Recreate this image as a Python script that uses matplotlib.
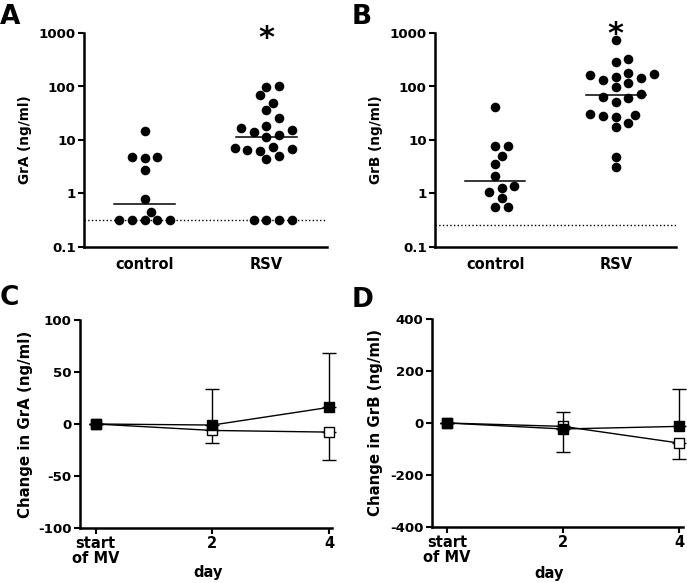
import numpy as np
import matplotlib
matplotlib.use("Agg")
import matplotlib.pyplot as plt
from matplotlib.ticker import FixedLocator, FixedFormatter, NullLocator
from matplotlib.transforms import blended_transform_factory

plt.rcParams['font.family'] = 'DejaVu Sans'
plt.rcParams['font.weight'] = 'bold'
plt.rcParams['axes.unicode_minus'] = False

# panel A / B: scatter data (ng/ml)
groups = ['control', 'RSV']
grA_control = [14.5, 4.8, 4.8, 4.6, 2.7, 0.79, 0.46, 0.32, 0.32, 0.32, 0.32, 0.32]
grA_rsv = [100, 98, 68, 50, 35.7, 25.4, 18.5, 16.8, 14.1, 15.6, 11.4, 12.2,
           6.6, 7.1, 7.3, 6.2, 6.8, 5.1, 4.4, 0.32, 0.32, 0.32, 0.32]
grA_median = [0.63, 11.2]
grA_lod = 0.32

grB_control = [40.8, 7.8, 7.8, 5.1, 3.5, 2.1, 1.27, 1.36, 1.07, 0.81, 0.55, 0.55]
grB_rsv = [750, 327, 282, 161, 146, 179, 171, 134, 152, 116, 98, 62.5, 60, 73, 51,
           27.7, 21, 31, 26.5, 29.7, 17.2, 4.9, 3.1]
grB_median = [1.71, 70]
grB_lod = 0.26

log_ticks = [0.1, 1, 10, 100, 1000]
log_labels = ['0.1', '1', '10', '100', '1000']

# panel C / D: change over time
days = [0, 2, 4]
day_labels = ['start\nof MV', '2', '4']
grA_filled = [0, -1, 16]
grA_filled_err = [0, 34.4, 52]
grA_open = [0, -6.2, -7.8]
grA_open_err = [0, 11.6, 26.6]
grB_filled = [0, -23, -13]
grB_filled_err = [0, 65, 144]
grB_open = [0, -13, -77]
grB_open_err = [0, 100, 61]


def swarm_offsets(ax, xc, values, slot_px=12.7, d_px=10.0):
    """column scatter on half-slot grid, lowest values placed first"""
    vals = np.asarray(values, float)
    ys = ax.transData.transform(np.column_stack([np.full(len(vals), xc), vals]))[:, 1]
    order = np.argsort(ys, kind='stable')
    cands = [0.0]
    for k in range(1, 10):
        cands += [k * slot_px / 2, -k * slot_px / 2]
    placed = []
    offs = np.zeros(len(vals))
    for i in order:
        y = ys[i]
        for c in cands:
            if all((c - px) ** 2 + (y - py) ** 2 >= d_px ** 2 for px, py in placed):
                offs[i] = c
                break
        placed.append((offs[i], y))
    p0 = ax.transData.transform([[0, 1]])[0, 0]
    p1 = ax.transData.transform([[1, 1]])[0, 0]
    return offs / (p1 - p0)


def style_axes(ax):
    for s in ['top', 'right']:
        ax.spines[s].set_visible(False)
    for s in ['left', 'bottom']:
        ax.spines[s].set_linewidth(1.8)


def scatter_panel(ax, data, medians, lod, ylabel, star_y):
    style_axes(ax)
    ax.set_yscale('log')
    ax.set_ylim(0.1, 1000)
    ax.set_xlim(-0.5, 1.5)
    ax.yaxis.set_major_locator(FixedLocator(log_ticks))
    ax.yaxis.set_major_formatter(FixedFormatter(log_labels))
    ax.yaxis.set_minor_locator(NullLocator())
    ax.set_xticks([0, 1])
    ax.set_xticklabels(groups, fontsize=10.5, fontweight='bold')
    ax.tick_params(axis='x', length=0, pad=7)
    ax.tick_params(axis='y', direction='out', length=4, width=1.5, labelsize=9.6, pad=2)
    ax.axhline(lod, ls=':', lw=1, color='black', zorder=1)
    for i, vals in enumerate(data):
        offs = swarm_offsets(ax, i, vals)
        ax.scatter(i + offs, vals, s=48, color='black', zorder=3, linewidths=0)
        ax.plot([i - 0.25, i + 0.25], [medians[i], medians[i]], color='black', lw=1.1, zorder=4)
    ax.set_ylabel(ylabel, fontsize=9.8, fontweight='bold')
    tr = blended_transform_factory(ax.transData, ax.transAxes)
    ax.text(1, star_y, '*', transform=tr, ha='center', va='baseline',
            fontsize=22, fontweight='bold', clip_on=False)


def change_panel(ax, filled, filled_err, opened, opened_err, ylim, yticks, ylabel):
    style_axes(ax)
    z = [0] * len(days)
    ax.errorbar(days, opened, yerr=[opened_err, z], color='black', lw=1,
                elinewidth=1, capsize=5, capthick=1, marker='s', ms=7.5,
                mfc='white', mec='black', mew=1, zorder=3, clip_on=False)
    ax.errorbar(days, filled, yerr=[z, filled_err], color='black', lw=1,
                elinewidth=1, capsize=5, capthick=1, marker='s', ms=7.5,
                mfc='black', mec='black', zorder=4, clip_on=False)
    ax.set_ylim(*ylim)
    ax.set_yticks(yticks)
    ax.set_yticklabels([str(t) for t in yticks])
    ax.set_xticks(days)
    ax.set_xticklabels(day_labels, fontsize=10.5, fontweight='bold', linespacing=1.0)
    ax.tick_params(axis='both', direction='out', length=4, width=1.5, pad=2)
    ax.tick_params(axis='y', labelsize=9.6)
    ax.set_ylabel(ylabel, fontsize=10.8, fontweight='bold')
    ax.set_xlabel('day', fontsize=10.5, fontweight='bold')


fig = plt.figure(figsize=(6.87, 5.83), dpi=100)
W, H = 687.0, 583.0

axA = fig.add_axes([84 / W, 1 - 247 / H, 243 / W, 214 / H])
axB = fig.add_axes([435 / W, 1 - 247 / H, 241 / W, 214 / H])
axC = fig.add_axes([80 / W, 1 - 528 / H, 252 / W, 208 / H])
axD = fig.add_axes([432 / W, 1 - 527 / H, 251 / W, 208 / H])

scatter_panel(axA, [grA_control, grA_rsv], grA_median, grA_lod, 'GrA (ng/ml)', 0.935)
scatter_panel(axB, [grB_control, grB_rsv], grB_median, grB_lod, 'GrB (ng/ml)', 0.955)
axA.yaxis.set_label_coords(-0.214, 0.5)
axB.yaxis.set_label_coords(-0.216, 0.5)

change_panel(axC, grA_filled, grA_filled_err, grA_open, grA_open_err,
             (-100, 100), [-100, -50, 0, 50, 100], 'Change in GrA (ng/ml)')
change_panel(axD, grB_filled, grB_filled_err, grB_open, grB_open_err,
             (-400, 400), [-400, -200, 0, 200, 400], 'Change in GrB (ng/ml)')
axC.set_xlim(-0.27, 4.05)
axD.set_xlim(-0.26, 4.07)
axC.yaxis.set_label_coords(-0.187, 0.5)
axD.yaxis.set_label_coords(-0.195, 0.5)
axC.xaxis.set_label_coords(0.51, -0.178)
axD.xaxis.set_label_coords(0.466, -0.1875)

for lab, x, y in [('A', 0, 4), ('B', 352, 4), ('C', 0, 285), ('D', 352, 287)]:
    fig.text(x / W, 1 - y / H, lab, ha='left', va='top', fontsize=19, fontweight='bold')

fig.savefig('out.png', dpi=100)
